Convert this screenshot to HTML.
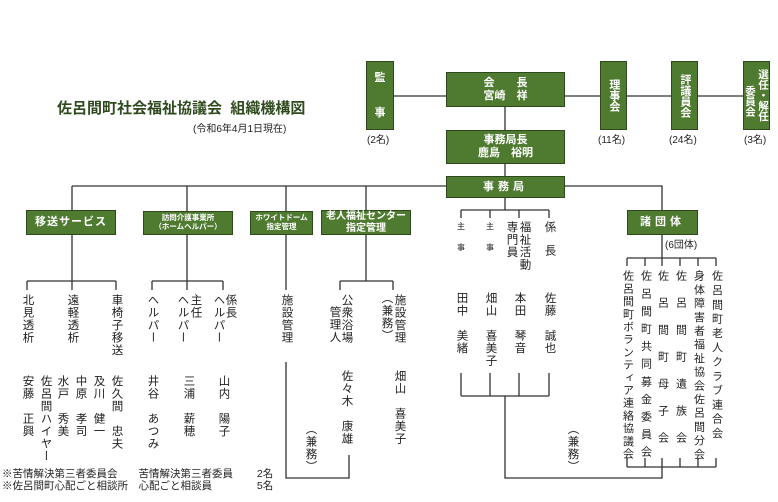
<!DOCTYPE html>
<html><head><meta charset="utf-8">
<style>
*{margin:0;padding:0;box-sizing:border-box}
body{width:778px;height:502px;background:#fff;position:relative;overflow:hidden;font-family:"Liberation Sans","Noto Sans CJK JP",sans-serif;color:#222}
.b{position:absolute;background:#4f7b31;border:1.5px solid #2e4a1c;color:#fff;font-weight:bold;text-align:center;display:flex;align-items:center;justify-content:center;line-height:1.15}
.v{position:absolute;writing-mode:vertical-rl;font-size:11.5px;line-height:13px;letter-spacing:1px;white-space:pre;transform:translateX(-50%)}
.t{position:absolute;font-size:10px;white-space:pre}
svg{position:absolute;left:0;top:0}
</style></head><body>
<svg width="778" height="502" stroke="#333" stroke-width="1.3" fill="none">
<path d="M394 96H446M565 96H600M627 96H671M698 96H743M505 107V130M505 164V176"/>
<path d="M72 186H662V211M72 186V211M187 186V211M286 186V211M366 186V211M505 198V210M461 210H549M461 210V218M490 210V218M519 210V218M549 210V218"/>
<path d="M72 235V281M27 281H116M27 281V290M72 281V290M116 281V290"/>
<path d="M187 235V281M152 281H223M152 281V290M187 281V290M223 281V290"/>
<path d="M286 235V290"/>
<path d="M366 235V281M340 281H393M340 281V290M393 281V290"/>
<path d="M286 362V478H349V455"/>
<path d="M461 373V396M490 373V396M519 373V396M549 373V396M461 396H549M505 396V478H662V467M627 467H716M627 458V467M645 458V467M662 458V467M680 458V467M698 458V467M716 458V467"/>
<path d="M662 235V258M627 258H716M627 258V266M645 258V266M662 258V266M680 258V266M698 258V266M716 258V266"/>
</svg>
<div style="position:absolute;left:57px;top:97px;font-size:15px;font-weight:bold;color:#2f4a1f;white-space:pre">佐呂間町社会福祉協議会  組織機構図</div>
<div class="t" style="left:193px;top:120px">(令和6年4月1日現在)</div>

<div class="b" style="left:366px;top:61px;width:28px;height:69px;flex-direction:column;font-size:11px;gap:22px"><span>監</span><span>事</span></div>
<div class="t" style="left:367px;top:131px">(2名)</div>
<div class="b" style="left:446px;top:72px;width:119px;height:35px;font-size:11px">会　　長<br>宮崎　祥</div>
<div class="b" style="left:600px;top:61px;width:27px;height:69px;font-size:11px;writing-mode:vertical-rl">理事会</div>
<div class="t" style="left:598px;top:131px">(11名)</div>
<div class="b" style="left:671px;top:61px;width:27px;height:69px;font-size:11px;writing-mode:vertical-rl">評議員会</div>
<div class="t" style="left:669px;top:131px">(24名)</div>
<div class="b" style="left:743px;top:61px;width:27px;height:69px;font-size:10.5px;writing-mode:vertical-rl;align-items:flex-start;line-height:13px">選任・解任<br>　委員会</div>
<div class="t" style="left:744px;top:131px">(3名)</div>
<div class="b" style="left:446px;top:130px;width:119px;height:34px;font-size:11px">事務局長<br>鹿島　裕明</div>
<div class="b" style="left:446px;top:176px;width:119px;height:22px;font-size:11px;letter-spacing:4px">事務局</div>

<div class="b" style="left:26px;top:210px;width:90px;height:25px;font-size:11px;letter-spacing:1px">移送サービス</div>
<div class="b" style="left:143px;top:211px;width:90px;height:24px;font-size:7.5px">訪問介護事業所<br>（ホームヘルパー）</div>
<div class="b" style="left:250px;top:211px;width:63px;height:24px;font-size:7.5px">ホワイトドーム<br>指定管理</div>
<div class="b" style="left:321px;top:210px;width:90px;height:25px;font-size:10px">老人福祉センター<br>指定管理</div>
<div class="b" style="left:627px;top:210px;width:71px;height:25px;font-size:11px;letter-spacing:4px">諸団体</div>
<div class="t" style="left:665px;top:236px">(6団体)</div>

<div class="v" style="left:27px;top:294px">北見透析</div>
<div class="v" style="left:72px;top:294px">遠軽透析</div>
<div class="v" style="left:116px;top:294px">車椅子移送</div>
<div class="v" style="left:27px;top:375px">安藤　正興</div>
<div class="v" style="left:45px;top:375px">佐呂間ハイヤー</div>
<div class="v" style="left:62px;top:375px">水戸　秀美</div>
<div class="v" style="left:80px;top:375px">中原　孝司</div>
<div class="v" style="left:98px;top:375px">及川　健一</div>
<div class="v" style="left:116px;top:375px">佐久間　忠夫</div>

<div class="v" style="left:152px;top:294px">ヘルパー</div>
<div class="v" style="left:195px;top:294px">主任</div>
<div class="v" style="left:182px;top:294px">ヘルパー</div>
<div class="v" style="left:230px;top:294px">係長</div>
<div class="v" style="left:218px;top:294px">ヘルパー</div>
<div class="v" style="left:152px;top:375px">井谷　あつみ</div>
<div class="v" style="left:188px;top:375px">三浦　薪穂</div>
<div class="v" style="left:223px;top:375px">山内　陽子</div>

<div class="v" style="left:286px;top:294px">施設管理</div>
<div class="v" style="left:346px;top:294px">公衆浴場</div>
<div class="v" style="left:334px;top:306px">管理人</div>
<div class="v" style="left:399px;top:294px">施設管理</div>
<div class="v" style="left:386px;top:292px">（兼務）</div>
<div class="v" style="left:346px;top:370px">佐々木　康雄</div>
<div class="v" style="left:399px;top:370px">畑山　喜美子</div>
<div class="v" style="left:310px;top:423px">（兼務）</div>

<div class="v" style="left:461px;top:222px;font-size:8px;line-height:9px;letter-spacing:13px">主事</div>
<div class="v" style="left:490px;top:222px;font-size:8px;line-height:9px;letter-spacing:13px">主事</div>
<div class="v" style="left:524px;top:221px">福祉活動</div>
<div class="v" style="left:511px;top:221px">専門員</div>
<div class="v" style="left:549px;top:221px;letter-spacing:12px">係長</div>
<div class="v" style="left:461px;top:292px">田中　美緒</div>
<div class="v" style="left:490px;top:292px">畑山　喜美子</div>
<div class="v" style="left:519px;top:292px">本田　琴音</div>
<div class="v" style="left:549px;top:292px">佐藤　誠也</div>
<div class="v" style="left:572px;top:423px">（兼務）</div>

<div class="v" style="left:627px;top:270px;font-size:11px;letter-spacing:1.7px">佐呂間町ボランティア連絡協議会</div>
<div class="v" style="left:645px;top:270px;font-size:11px;letter-spacing:6.6px">佐呂間町共同募金委員会</div>
<div class="v" style="left:662px;top:270px;font-size:11px;letter-spacing:16px">佐呂間町母子会</div>
<div class="v" style="left:680px;top:270px;font-size:11px;letter-spacing:16px">佐呂間町遺族会</div>
<div class="v" style="left:698px;top:270px;font-size:11px;letter-spacing:2.7px">身体障害者福祉協会佐呂間分会</div>
<div class="v" style="left:716px;top:270px;font-size:11px;letter-spacing:3.3px">佐呂間町老人クラブ連合会</div>

<div class="t" style="left:2px;top:466px;font-size:10.5px">※苦情解決第三者委員会　　苦情解決第三者委員　　 2名</div>
<div class="t" style="left:2px;top:478px;font-size:10.5px">※佐呂間町心配ごと相談所　心配ごと相談員　　　　 5名</div>
</body></html>
